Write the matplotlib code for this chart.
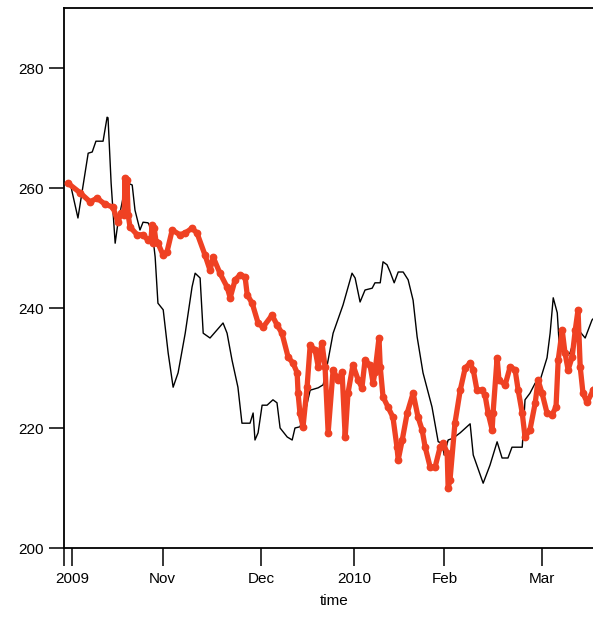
import matplotlib
matplotlib.use('Agg')
import matplotlib.pyplot as plt

plt.rcParams['font.family'] = ['Liberation Sans', 'DejaVu Sans']

# x in days from the "2009" tick
black_x = [-0.6, 1.9, 5.2, 6.5, 7.7, 10.0, 11.3, 11.6, 12.6, 13.9, 14.8, 16.5, 18.1, 19.4,
           20.3, 21.9, 22.9, 24.5, 25.8, 26.8, 27.7, 29.4, 31.0, 32.6, 34.2, 36.5, 38.7,
           39.7, 41.3, 42.3, 44.5, 48.7, 50.0, 51.6, 53.5, 54.8, 57.4, 58.4, 59.0, 60.0,
           61.3, 62.9, 64.8, 66.1, 67.1, 69.4, 71.0, 71.9, 73.5, 75.2, 76.8, 79.4, 81.0,
           82.3, 84.2, 87.4, 90.3, 91.3, 92.9, 94.5, 96.8, 97.7, 99.4, 100.3, 101.6, 102.6,
           103.9, 105.2, 106.8, 108.4, 110.0, 111.3, 113.2, 116.1, 118.1, 119.4, 120.0,
           121.3, 122.9, 125.2, 128.4, 129.4, 132.6, 134.8, 137.1, 138.7, 140.6, 141.9,
           145.2, 145.5, 146.1, 147.7, 149.4, 151.0, 153.2, 154.2, 155.2, 156.5, 157.1,
           159.0, 160.6, 162.3, 163.9, 165.5, 167.7, 170.5]
black_y = [260.8, 255.0, 265.8, 266.0, 267.8, 267.8, 271.8, 271.7, 260.8, 250.8, 254.2, 258.5,
           260.8, 260.5, 256.3, 253.0, 254.3, 254.2, 253.0, 248.5, 240.8, 239.7, 232.5, 226.8,
           229.2, 235.8, 243.5, 245.8, 245.0, 235.8, 235.0, 237.5, 235.8, 231.3, 226.8, 220.8,
           220.8, 222.5, 218.0, 219.2, 223.8, 223.8, 224.7, 224.2, 220.0, 218.5, 218.0, 220.0,
           220.2, 222.7, 226.3, 226.7, 227.2, 230.5, 235.8, 240.5, 245.8, 245.0, 241.0, 243.0,
           243.3, 244.2, 244.2, 247.7, 247.2, 246.0, 244.2, 246.0, 246.0, 244.7, 241.3, 235.2,
           229.2, 223.5, 217.7, 217.5, 215.5, 218.0, 218.3, 219.2, 220.7, 215.5, 210.8, 213.8,
           217.7, 215.0, 215.0, 216.8, 216.8, 219.2, 224.7, 225.8, 227.5, 228.0, 231.7, 235.8,
           241.7, 239.2, 234.2, 231.7, 232.5, 235.2, 236.0, 235.0, 238.0, 239.5]

red_x = [-1.3, 2.6, 5.8, 8.1, 10.6, 13.2, 14.8, 15.8, 16.8, 17.1, 17.4, 17.7, 18.1, 18.7,
         21.0, 22.9, 24.5, 25.5, 25.8, 26.1, 26.5, 27.1, 27.7, 29.4, 30.6, 32.3, 34.8, 36.5,
         38.7, 40.3, 42.9, 44.5, 45.5, 47.7, 50.0, 51.0, 52.6, 54.2, 55.8, 56.5, 58.1, 60.0,
         61.6, 64.5, 66.1, 67.7, 69.7, 71.3, 72.6, 72.9, 73.5, 74.5, 75.8, 76.8, 78.4, 79.4,
         80.6, 81.6, 82.6, 84.2, 85.8, 87.1, 88.1, 89.0, 90.6, 92.3, 93.5, 94.5, 96.1, 97.1,
         97.7, 99.0, 99.4, 100.3, 101.9, 103.5, 104.8, 105.2, 106.5, 108.1, 110.0, 111.6,
         112.9, 113.9, 115.5, 117.1, 118.7, 119.7, 121.0, 121.3, 121.9, 123.5, 125.2, 126.8,
         128.4, 129.4, 130.6, 132.3, 133.2, 134.2, 135.5, 135.8, 137.1, 137.7, 139.7, 141.3,
         142.9, 143.9, 145.2, 146.1, 147.7, 149.4, 150.3, 151.6, 153.2, 154.8, 156.1, 156.8,
         158.1, 159.0, 160.0, 161.3, 162.3, 163.2, 163.9, 164.8, 166.1, 168.1, 170.5]
red_y = [260.8, 259.2, 257.7, 258.3, 257.3, 256.8, 254.3, 255.8, 255.5, 261.7, 256.3, 261.3,
         255.5, 253.5, 252.2, 252.2, 251.3, 251.7, 253.8, 250.8, 253.3, 251.0, 250.8, 248.8,
         249.3, 253.0, 252.2, 252.5, 253.3, 252.5, 248.8, 246.3, 248.5, 245.8, 243.5, 241.7,
         244.7, 245.5, 245.2, 242.2, 240.8, 237.5, 236.8, 238.8, 237.2, 235.8, 231.8, 230.8,
         229.2, 225.8, 222.5, 220.2, 226.8, 233.8, 233.0, 230.2, 234.2, 230.2, 219.2, 229.7,
         228.0, 229.3, 218.5, 225.8, 230.5, 228.0, 226.7, 231.3, 230.5, 227.5, 229.3, 235.0,
         230.2, 225.2, 223.5, 221.8, 216.8, 214.7, 218.0, 222.5, 225.8, 221.8, 219.7, 216.8,
         213.5, 213.5, 216.8, 217.5, 215.8, 210.0, 211.3, 220.8, 226.3, 230.0, 230.8, 229.7,
         226.3, 226.3, 225.5, 222.5, 219.7, 222.5, 231.7, 228.0, 227.2, 230.2, 229.7, 226.3,
         222.5, 218.5, 219.7, 224.2, 228.0, 225.8, 222.5, 222.2, 223.5, 231.3, 236.3, 232.5,
         229.7, 231.8, 236.3, 239.7, 230.2, 225.8, 224.3, 226.3, 228.5]

tick_pos = [-2.6, 0.0, 29.2, 60.9, 91.1, 120.1, 151.7]
tick_labels = ['', '2009', 'Nov', 'Dec', '2010', 'Feb', 'Mar']
y_ticks = [200, 220, 240, 260, 280]

fig = plt.figure(figsize=(5.93, 6.18), dpi=100)
ax = fig.add_axes([64 / 593, 1 - 548 / 618, 541 / 593, 540 / 618])

ax.plot(black_x, black_y, color='black', lw=1.0, zorder=2)
ax.plot(red_x, red_y, color='#ef4123', lw=3.8, marker='o', ms=4.6, zorder=3,
        solid_joinstyle='round', solid_capstyle='round')

ax.set_xlim(-2.6, 171.9)
ax.set_ylim(200, 290)
ax.set_xticks(tick_pos)
ax.set_xticklabels(tick_labels)
ax.set_yticks(y_ticks)
ax.tick_params(axis='y', length=11, width=1.1, pad=3.5, labelsize=11)
ax.tick_params(axis='x', length=13, width=1.1, pad=4, labelsize=11)
ax.spines['right'].set_visible(False)
for s in ['left', 'bottom', 'top']:
    ax.spines[s].set_linewidth(1.3)
ax.set_xlabel('time', fontsize=11, labelpad=6)

fig.savefig('out.png', dpi=100)
